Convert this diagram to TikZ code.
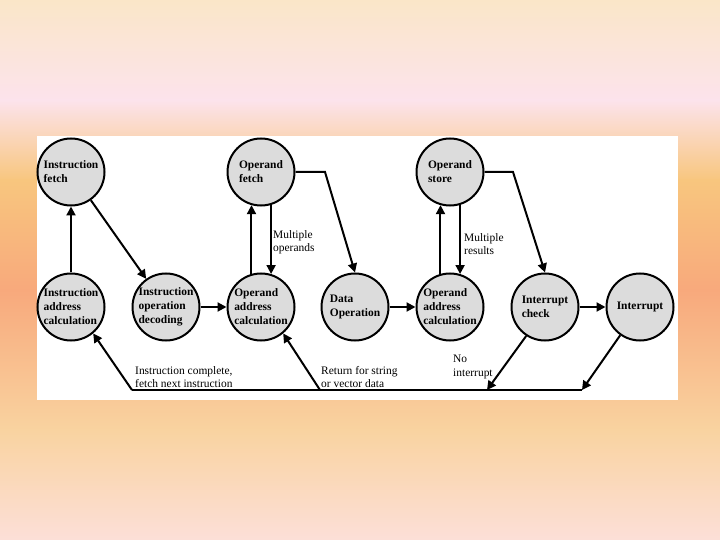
\documentclass[tikz,border=0pt]{standalone}
\usepackage{fontspec}
\setmainfont{Liberation Serif}
\usetikzlibrary{arrows.meta}

\definecolor{bgA}{HTML}{FAE6C8}
\definecolor{bgB}{HTML}{FCE3EC}
\definecolor{bgC}{HTML}{F8C67E}
\definecolor{bgD}{HTML}{F8A97C}
\definecolor{bgE}{HTML}{F9D3A0}
\definecolor{bgF}{HTML}{FCDFD8}
\definecolor{stategray}{HTML}{DCDCDC}

\tikzset{
  state/.style={draw, circle, line width=2bp, fill=stategray, minimum size=67bp,
    inner sep=0pt, align=left, font=\fontsize{11.5}{14}\selectfont\bfseries},
  flow/.style={line width=2bp, -{Triangle[length=9bp,width=9bp]}},
  plain/.style={line width=2bp},
  tag/.style={anchor=west, align=left, inner sep=0pt, font=\fontsize{11.5}{13.5}\selectfont},
}

\begin{document}
\begin{tikzpicture}[x=1bp,y=1bp,yscale=-1,xscale=1]
    \useasboundingbox (0,0) rectangle (720,540);
    % background
    \shade[top color=bgA, bottom color=bgB] (0,0) rectangle (720,100.5);
    \shade[top color=bgB, bottom color=bgC] (0,100) rectangle (720,180.5);
    \shade[top color=bgC, bottom color=bgD] (0,180) rectangle (720,290.5);
    \shade[top color=bgD, bottom color=bgE] (0,290) rectangle (720,430.5);
    \shade[top color=bgE, bottom color=bgF] (0,430) rectangle (720,540);
    \fill[white] (37,136) rectangle (678,400);

    % states
    \node[state] (ifetch)   at (71,172)  {Instruction\\fetch};
    \node[state] (opfetch)  at (261,172) {Operand\\fetch};
    \node[state] (opstore)  at (450,172) {Operand\\store};
    \node[state] (iaddr)    at (71,307)  {Instruction\\address\\calculation};
    \node[state] (idecode)  at (166,307) {Instruction\\operation\\decoding};
    \node[state] (oaddr)    at (261,307) {Operand\\address\\calculation};
    \node[state] (dataop)   at (355,307) {Data\\Operation};
    \node[state] (oaddrb)   at (450,307) {Operand\\address\\calculation};
    \node[state] (intcheck) at (545,307) {Interrupt\\check};
    \node[state] (intr)     at (640,307) {Interrupt};

    \coordinate (ofbend)   at (325,172);
    \coordinate (osbend)   at (513,172);
    \coordinate (retstart) at (132,390);
    \coordinate (strret)   at (320,390);
    \coordinate (nointr)   at (487,390);
    \coordinate (retend)   at (582,390);

    % transitions
    \draw[flow] (iaddr) -- (ifetch);
    \draw[flow] (ifetch) -- (idecode);
    \draw[flow] (idecode) -- (oaddr);
    \draw[flow] (oaddr.106) -- (oaddr.106 |- opfetch.254);
    \draw[flow] (opfetch.-73) -- (opfetch.-73 |- oaddr.73);
    \draw[flow] (opfetch.east) -- (ofbend) -- (dataop.north);
    \draw[flow] (dataop) -- (oaddrb);
    \draw[flow] (oaddrb.106) -- (oaddrb.106 |- opstore.254);
    \draw[flow] (opstore.-73) -- (opstore.-73 |- oaddrb.73);
    \draw[flow] (opstore.east) -- (osbend) -- (intcheck.north);
    \draw[flow] (intcheck) -- (intr);
    \draw[flow] (intcheck.-123) -- (nointr);
    \draw[flow] (intr.-125) -- (retend);
    \draw[plain] (retend) -- (retstart);
    \draw[flow] (retstart) -- (iaddr.-50);
    \draw[flow] (strret) -- (oaddr.-50);

    % labels
    \node[tag] (lblmulop)  at (273,242) {Multiple\\operands};
    \node[tag] (lblmulres) at (464,244) {Multiple\\results};
    \node[tag] (lbldone)   at (135,377) {Instruction complete,\\fetch next instruction};
    \node[tag] (lblstr)    at (321,377) {Return for string\\or vector data};
    \node[tag] (lblnoint)  at (453,367) {No\\interrupt};
\end{tikzpicture}
\end{document}
